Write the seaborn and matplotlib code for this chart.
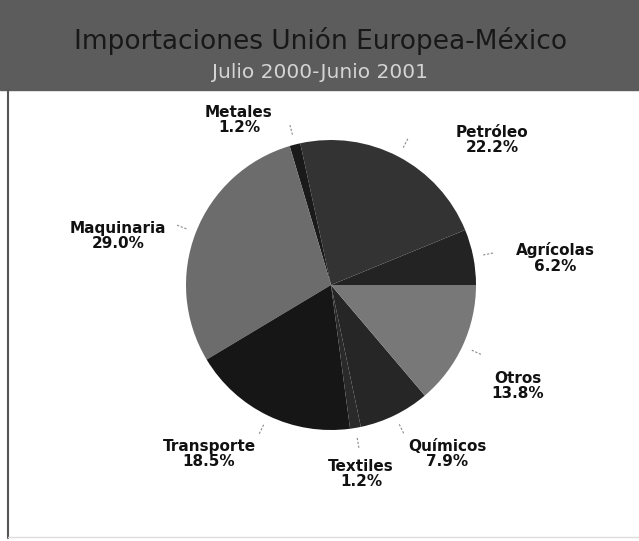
import numpy as np
import matplotlib
matplotlib.use('Agg')
import matplotlib.pyplot as plt
import seaborn as sns
from matplotlib.patches import Rectangle

sns.set_theme(style='white')
plt.rcParams['font.family'] = ['DejaVu Sans']

# data (order counterclockwise from 3 o'clock)
categorias = ['Agrícolas', 'Petróleo', 'Metales', 'Maquinaria',
              'Transporte', 'Textiles', 'Químicos', 'Otros']
porcentajes = [6.2, 22.2, 1.2, 29.0, 18.5, 1.2, 7.9, 13.8]
colores = ['#232323', '#333333', '#1a1a1a', '#6c6c6c',
           '#161616', '#2a2a2a', '#262626', '#787878']

titulo = 'Importaciones Unión Europea-México'
subtitulo = 'Julio 2000-Junio 2001'

# label placement in pixels (x, y from top)
label_pos = {'Agrícolas': (555, 258), 'Petróleo': (492, 140),
             'Metales': (239, 120), 'Maquinaria': (118, 236),
             'Transporte': (209, 454), 'Textiles': (361, 474),
             'Químicos': (447, 454), 'Otros': (518, 386)}

W, H = 639, 541
fig = plt.figure(figsize=(W / 100, H / 100), dpi=100)
ax = fig.add_axes([0, 0, 1, 1])

def py(y):
    return H - y

# header band
ax.add_patch(Rectangle((0, py(90)), W, 90, color='#5c5c5c', zorder=0))
ax.text(321, py(41), titulo, ha='center', va='center', fontsize=19, color='#181818')
ax.text(320, py(73), subtitulo, ha='center', va='center', fontsize=14.5, color='#d4d4d4')

# frame lines
ax.plot([8, 8], [py(90), py(538)], color='#555555', lw=1.5)
ax.plot([8, W], [py(537), py(537)], color='#dddddd', lw=1)

cx, cy, r = 331, py(285), 145
wedges, _ = ax.pie(porcentajes, colors=colores, startangle=0, counterclock=True,
                   center=(cx, cy), radius=r, frame=True,
                   wedgeprops={'linewidth': 0})
ax.set_xlim(0, W)
ax.set_ylim(0, H)
ax.set_aspect('equal')
ax.axis('off')

# leaders and labels
for w, cat, p in zip(wedges, categorias, porcentajes):
    ang = np.deg2rad((w.theta1 + w.theta2) / 2)
    x0, y0 = cx + 1.07 * r * np.cos(ang), cy + 1.07 * r * np.sin(ang)
    x1, y1 = cx + 1.15 * r * np.cos(ang), cy + 1.15 * r * np.sin(ang)
    ax.plot([x0, x1], [y0, y1], color='#8a8a8a', lw=0.8, ls=(0, (2, 1.5)))
    lx, ly = label_pos[cat]
    ax.text(lx, py(ly), f'{cat}\n{p:.1f}%', ha='center', va='center', fontsize=11,
            fontweight='bold', color='#111111', linespacing=1.05)

fig.savefig('out.png', dpi=100)
